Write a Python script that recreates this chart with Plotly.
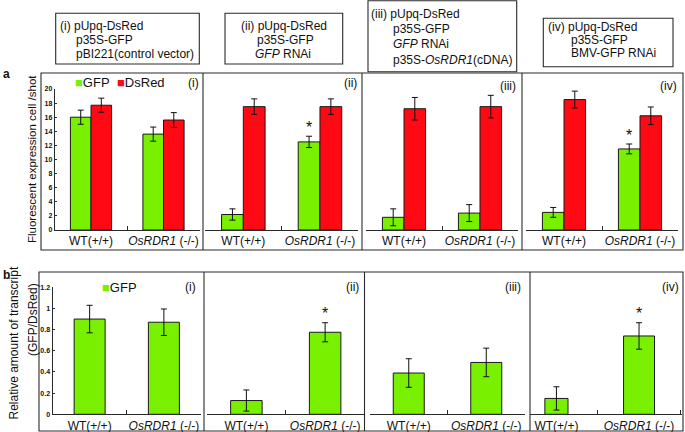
import plotly.graph_objects as go

# ---------------- data ----------------
CATEGORIES = ["WT(+/+)", "<i>OsRDR1</i> (-/-)"]
PANEL_TAGS = ["(i)", "(ii)", "(iii)", "(iv)"]

# panel a: fluorescent expression cells / shot
GFP_CELLS = [[16.0, 13.6], [2.2, 12.5], [1.8, 2.4], [2.5, 11.5]]
GFP_CELLS_ERR = [[1.0, 1.0], [0.8, 0.8], [1.2, 1.2], [0.7, 0.7]]
DSRED_CELLS = [[17.7, 15.6], [17.5, 17.5], [17.2, 17.5], [18.5, 16.2]]
DSRED_CELLS_ERR = [[1.0, 1.05], [1.1, 1.1], [1.6, 1.6], [1.2, 1.25]]

# panel b: relative amount of transcript (GFP/DsRed)
GFP_TRANSCRIPT = [[0.90, 0.87], [0.13, 0.775], [0.39, 0.49], [0.15, 0.74]]
GFP_TRANSCRIPT_ERR = [[0.13, 0.125], [0.10, 0.09], [0.135, 0.135], [0.11, 0.125]]

# significance stars: (panel index, category index)
STARS_A = [(1, 1), (3, 1)]
STARS_B = [(1, 1), (3, 1)]

HEADERS = [
    ["(i) pUpq-DsRed", "p35S-GFP", "pBI221(control vector)"],
    ["(ii) pUpq-DsRed", "p35S-GFP", "<i>GFP</i> RNAi"],
    ["(iii) pUpq-DsRed", "p35S-GFP", "<i>GFP</i> RNAi", "p35S-<i>OsRDR1</i>(cDNA)"],
    ["(iv) pUpq-DsRed", "p35S-GFP", "BMV-GFP RNAi"],
]

# ---------------- styling / layout ----------------
W, H = 685, 432
FONT = "Liberation Sans"
GREEN = "#78F000"
RED = "#FF0A14"
EDGE = "#1a1a1a"
LINE = "#2a2a2a"


def X(px):
    return px / W


def Y(py):
    return 1 - py / H


# x pixel domains of each subplot
A_DOM = [(54.75, 199.75), (205, 358.3), (366, 518), (526, 678)]
B_DOM = [(52.5, 201), (207, 364.5), (370, 525), (530, 682)]
A_RANGE = [[-0.5, 1.5]] * 4
B_RANGE = [[-0.5, 1.5], [-0.5, 1.5], [-0.5, 1.5], [-0.32, 1.52]]
A_Y = (230, 89)      # baseline px, top px for 0..20
B_Y = (414.3, 287.3)  # baseline px, top px for 0..1.2
A_W = 0.284
B_W = [[0.417, 0.417], [0.40, 0.40], [0.40, 0.40], [0.28, 0.375]]

fig = go.Figure()
layout = dict(
    template="none",
    width=W, height=H, margin=dict(l=0, r=0, t=0, b=0, autoexpand=False),
    paper_bgcolor="white", plot_bgcolor="rgba(0,0,0,0)",
    barmode="overlay", showlegend=False,
    font=dict(family=FONT, color="#111"),
)


def axis_names(k):
    s = "" if k == 1 else str(k)
    return "x" + s, "y" + s, "xaxis" + s, "yaxis" + s


def xaxis_cfg(dom, rng, yname):
    return dict(
        domain=[X(dom[0]), X(dom[1])], anchor=yname, type="category",
        categoryorder="array", categoryarray=CATEGORIES, range=rng,
        showline=True, linecolor=LINE, linewidth=1, ticks="inside", ticklen=4,
        tickcolor=LINE, tickwidth=1, tickson="boundaries", showgrid=False,
        zeroline=False, tickangle=0, automargin=False,
        tickfont=dict(family=FONT, size=12, color="#111"),
        fixedrange=True,
    )


def yaxis_cfg(ypx, rng, dtick, xname, visible):
    d = dict(
        domain=[Y(ypx[0]), Y(ypx[1])], anchor=xname, range=rng,
        showgrid=False, zeroline=False, fixedrange=True, automargin=False,
    )
    if visible:
        d.update(
            visible=True, showline=True, linecolor=LINE, linewidth=1,
            ticks="inside", ticklen=2, tickcolor=LINE, dtick=dtick,
            tickfont=dict(family=FONT, size=7, color="#111", weight="bold"),
        )
    else:
        d.update(visible=False)
    return d


err_style = dict(type="data", color="#111", thickness=1, width=3, visible=True)

annotations = []

# ---------- panel a ----------
for i in range(4):
    k = i + 1
    xn, yn, xk, yk = axis_names(k)
    layout[xk] = xaxis_cfg(A_DOM[i], A_RANGE[i], yn)
    layout[yk] = yaxis_cfg(A_Y, [0, 20], 2, xn, i == 0)
    fig.add_trace(go.Bar(
        x=CATEGORIES, y=GFP_CELLS[i], width=A_W, offset=-A_W, name="GFP",
        marker=dict(color=GREEN, line=dict(color=EDGE, width=1)),
        error_y=dict(array=GFP_CELLS_ERR[i], **err_style),
        xaxis=xn, yaxis=yn,
    ))
    fig.add_trace(go.Bar(
        x=CATEGORIES, y=DSRED_CELLS[i], width=A_W, offset=0, name="DsRed",
        marker=dict(color=RED, line=dict(color=EDGE, width=1)),
        error_y=dict(array=DSRED_CELLS_ERR[i], **err_style),
        xaxis=xn, yaxis=yn,
    ))
    for (p, c) in STARS_A:
        if p == i:
            annotations.append(dict(
                xref=xn, yref=yn, x=CATEGORIES[c],
                y=GFP_CELLS[p][c] + GFP_CELLS_ERR[p][c],
                xshift=-A_W / 2 * (A_DOM[i][1] - A_DOM[i][0]) / 2,
                yanchor="bottom", yshift=-2, showarrow=False, text="*",
                font=dict(family=FONT, size=16, color="#111"),
            ))

# ---------- panel b ----------
for i in range(4):
    k = i + 5
    xn, yn, xk, yk = axis_names(k)
    layout[xk] = xaxis_cfg(B_DOM[i], B_RANGE[i], yn)
    layout[yk] = yaxis_cfg(B_Y, [0, 1.2], 0.2, xn, i == 0)
    fig.add_trace(go.Bar(
        x=CATEGORIES, y=GFP_TRANSCRIPT[i], width=B_W[i],
        offset=[-w / 2 for w in B_W[i]], name="GFP",
        marker=dict(color=GREEN, line=dict(color=EDGE, width=1)),
        error_y=dict(array=GFP_TRANSCRIPT_ERR[i], **err_style),
        xaxis=xn, yaxis=yn,
    ))
    for (p, c) in STARS_B:
        if p == i:
            annotations.append(dict(
                xref=xn, yref=yn, x=CATEGORIES[c],
                y=GFP_TRANSCRIPT[p][c] + GFP_TRANSCRIPT_ERR[p][c],
                yanchor="bottom", yshift=-1, showarrow=False, text="*",
                font=dict(family=FONT, size=16, color="#111"),
            ))


def txt(x, y, s, size=12, xanchor="left", **kw):
    annotations.append(dict(
        xref="paper", yref="paper", x=X(x), y=Y(y), text=s, showarrow=False,
        xanchor=xanchor, yanchor="middle", borderpad=0,
        font=dict(family=FONT, size=size, color="#111"), **kw,
    ))


# header texts
txt(59, 25.7, HEADERS[0][0])
txt(75, 40, HEADERS[0][1])
txt(75, 54, HEADERS[0][2])
txt(283.5, 25.7, HEADERS[1][0], xanchor="center")
txt(285, 40, HEADERS[1][1], xanchor="center")
txt(282.5, 54, HEADERS[1][2], xanchor="center")
txt(370, 13.5, HEADERS[2][0])
txt(392, 29.5, HEADERS[2][1])
txt(392, 44, HEADERS[2][2])
txt(392, 59.5, HEADERS[2][3])
txt(547, 26.7, HEADERS[3][0])
txt(570, 40, HEADERS[3][1])
txt(570, 53.3, HEADERS[3][2])

# panel letters
txt(2, 74, "<b>a</b>", size=12)
txt(2, 275, "<b>b</b>", size=12)

# panel tags
for xp, yp, t in [(193, 83, 0), (350, 83, 1), (508, 86, 2), (668, 86, 3)]:
    txt(xp, yp, PANEL_TAGS[t], size=12, xanchor="center")
for xp, yp, t in [(190, 287, 0), (352, 287, 1), (513, 287, 2), (670, 287, 3)]:
    txt(xp, yp, PANEL_TAGS[t], size=12, xanchor="center")

# in-panel keys
txt(74, 82.5, '<span style="color:%s">■</span>GFP' % GREEN, size=13)
txt(116, 82.5, '<span style="color:%s">■</span>DsRed' % RED, size=13)
txt(100.5, 287, '<span style="color:%s">■</span>GFP' % GREEN, size=13)

# axis titles
txt(31.5, 159.5, "Fluorescent expression cell /shot", size=11.5,
    xanchor="center", textangle=-90)
txt(13.5, 343, "Relative amount of transcript", size=12,
    xanchor="center", textangle=-90)
txt(33, 320, "(GFP/DsRed)", size=12, xanchor="center", textangle=-90)

# ---------- frames ----------
shapes = []


def rect(x0, y0, x1, y1, w=1.1, c=LINE):
    shapes.append(dict(type="rect", xref="paper", yref="paper",
                       x0=X(x0), x1=X(x1), y0=Y(y1), y1=Y(y0),
                       line=dict(color=c, width=w), fillcolor="rgba(0,0,0,0)"))


def vline(x, y0, y1, w=1.1, c=LINE):
    shapes.append(dict(type="line", xref="paper", yref="paper",
                       x0=X(x), x1=X(x), y0=Y(y0), y1=Y(y1),
                       line=dict(color=c, width=w)))


# header boxes
rect(55.7, 13.3, 199.3, 64)
rect(225, 13.3, 342.7, 64)
rect(368, 0.7, 516.7, 71.7)
rect(543.3, 18.3, 673, 66.7)
# panel a
rect(41, 73, 683, 250)
for xv in (203, 362, 522):
    vline(xv, 73, 250)
# panel b
rect(39, 272, 683, 431)
for xv in (204, 364.5, 530):
    vline(xv, 272, 431)

layout["annotations"] = annotations
layout["shapes"] = shapes
fig.update_layout(**layout)
fig.write_html(
    "out.html",
    config={"displayModeBar": False, "staticPlot": True},
    post_script="document.body.style.margin='0';document.body.style.padding='0';"
                "document.body.style.overflow='hidden';",
)
